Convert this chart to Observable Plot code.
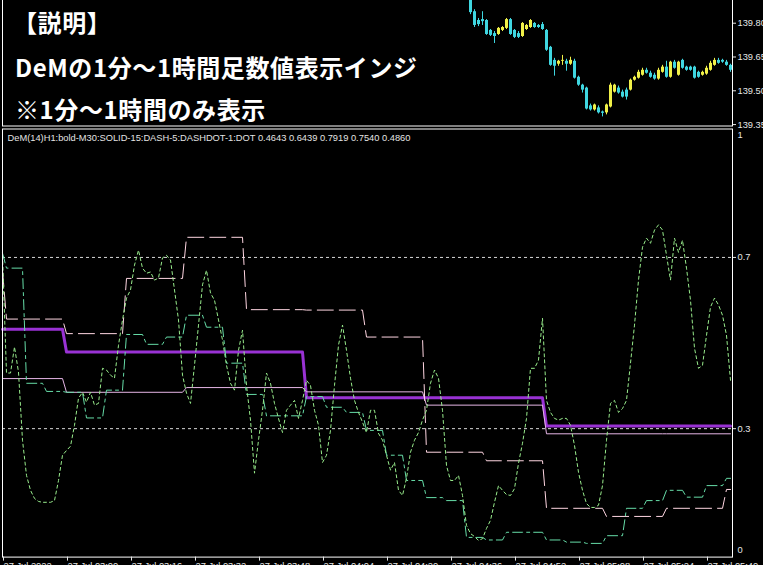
<!DOCTYPE html>
<html>
<head>
<meta charset="utf-8">
<script src="https://cdn.jsdelivr.net/npm/d3@7"></script>
<script src="https://cdn.jsdelivr.net/npm/@observablehq/plot@0.6"></script>
<style>
html, body { margin: 0; padding: 0; background: #000; }
#wrap { position: relative; width: 763px; height: 565px; overflow: hidden; background: #000; }
#top, #bottom { position: absolute; left: 0; }
#top { top: -3px; }
#bottom { top: 128px; }
#top svg, #bottom svg { overflow: visible; }
.note { position: absolute; color: #fff; font-family: "Noto Sans CJK JP", sans-serif; font-weight: 700; font-size: 24px; line-height: 1; white-space: nowrap; letter-spacing: 0.6px; }
</style>
</head>
<body>
<div id="wrap">
  <div id="top"></div>
  <div id="bottom"></div>
  <div class="note" style="left:13px; top:10px;">【説明】</div>
  <div class="note" style="left:15px; top:55px;">DeMの1分～1時間足数値表示インジ</div>
  <div class="note" style="left:15px; top:97px;">※1分～1時間のみ表示</div>
</div>
<script>
// ---------- data ----------
const firstBar = "02:44";
const headerText = "DeM(14)H1:bold-M30:SOLID-15:DASH-5:DASHDOT-1:DOT 0.4643 0.6439 0.7919 0.7540 0.4860";

// M1 (DOT) value for every 1-minute bar from 02:44
const m1Values = [
  0.705,0.430,0.430,0.491,0.432,0.273,0.191,0.156,0.137,0.130,
  0.128,0.128,0.128,0.132,0.179,0.238,0.249,0.259,0.308,0.371,
  0.385,0.362,0.385,0.355,0.359,0.441,0.437,0.425,0.418,0.495,
  0.554,0.605,0.624,0.682,0.717,0.675,0.663,0.666,0.647,0.652,
  0.699,0.705,0.694,0.624,0.554,0.425,0.383,0.359,0.448,0.542,
  0.636,0.670,0.617,0.600,0.554,0.507,0.448,0.406,0.390,0.483,
  0.530,0.401,0.320,0.196,0.273,0.343,0.430,0.406,0.359,0.324,
  0.291,0.343,0.355,0.366,0.324,0.366,0.413,0.401,0.343,0.308,
  0.221,0.238,0.296,0.401,0.495,0.542,0.483,0.418,0.366,0.338,
  0.315,0.291,0.343,0.343,0.289,0.273,0.238,0.203,0.221,0.156,
  0.144,0.184,0.245,0.273,0.291,0.320,0.343,0.406,0.437,0.418,
  0.343,0.214,0.179,0.179,0.191,0.144,0.074,0.055,0.048,0.039,
  0.043,0.067,0.086,0.128,0.167,0.156,0.146,0.144,0.160,0.219,
  0.266,0.324,0.441,0.441,0.460,0.558,0.366,0.338,0.324,0.320,
  0.324,0.324,0.308,0.261,0.198,0.156,0.125,0.116,0.116,0.121,
  0.167,0.273,0.359,0.366,0.338,0.347,0.366,0.453,0.542,0.647,
  0.724,0.745,0.733,0.764,0.776,0.764,0.705,0.647,0.745,0.712,
  0.740,0.675,0.600,0.488,0.441,0.448,0.518,0.584,0.605,0.589,
  0.565,0.518,0.413
];

// Higher timeframe values per period (period start times)
const h1Starts = ["02:00","03:00","04:00","05:00"];
const h1Values = [0.532,0.479,0.372,0.306];

const m30Starts = ["02:30","03:00","03:30","04:00","04:30","05:00","05:30"];
const m30Values = [0.417,0.385,0.396,0.386,0.355,0.288,0.288];

const m15Starts = ["02:30","02:45","03:00","03:15","03:30","03:45","04:00","04:15","04:30","04:45","05:00","05:15","05:30","05:45"];
const m15Values = [0.670,0.556,0.522,0.651,0.747,0.578,0.577,0.514,0.245,0.225,0.114,0.095,0.114,0.158];

const m5Starts = ["02:40","02:45","02:50","02:55","03:00","03:05","03:10","03:15","03:20","03:25",
                  "03:30","03:35","03:40","03:45","03:50","03:55","04:00","04:05","04:10","04:15",
                  "04:20","04:25","04:30","04:35","04:40","04:45","04:50","04:55","05:00","05:05",
                  "05:10","05:15","05:20","05:25","05:30","05:35","05:40","05:45"];
const m5Values = [0.710,0.675,0.406,0.387,0.385,0.325,0.390,0.520,0.497,0.514,
                  0.565,0.537,0.453,0.380,0.330,0.330,0.375,0.350,0.338,0.296,
                  0.238,0.179,0.139,0.132,0.046,0.040,0.058,0.058,0.040,0.035,
                  0.032,0.050,0.114,0.132,0.156,0.140,0.167,0.184];

const levels = [0.7, 0.3];
const yEdgeTop = [1];
const yEdgeBottom = [0];

const tickTimes = ["02:44","03:00","03:16","03:32","03:48","04:04","04:20","04:36","04:52","05:08","05:24","05:40"];
const tickLabels = ["27 Jul 2022","27 Jul 03:00","27 Jul 03:16","27 Jul 03:32","27 Jul 03:48","27 Jul 04:04",
                    "27 Jul 04:20","27 Jul 04:36","27 Jul 04:52","27 Jul 05:08","27 Jul 05:24","27 Jul 05:40"];

// Price candles (M1) starting at 04:41
const candleFirst = "04:41";
const candleOpen = [139.922,139.851,139.812,139.816,139.812,139.768,139.754,139.750,139.768,139.777,
  139.816,139.768,139.754,139.741,139.772,139.781,139.799,139.790,139.794,139.768,
  139.693,139.635,139.618,139.631,139.631,139.618,139.631,139.560,139.525,139.512,
  139.433,139.415,139.424,139.406,139.402,139.428,139.494,139.512,139.494,139.503,
  139.503,139.547,139.556,139.569,139.591,139.578,139.569,139.552,139.582,139.605,
  139.560,139.627,139.569,139.635,139.605,139.605,139.605,139.582,139.569,139.574,
  139.591,139.613,139.635,139.635,139.627,139.613];
const candleHigh = [139.935,139.860,139.821,139.851,139.816,139.772,139.763,139.781,139.785,139.821,
  139.821,139.772,139.763,139.803,139.794,139.816,139.803,139.794,139.803,139.772,
  139.697,139.644,139.635,139.657,139.640,139.649,139.640,139.565,139.529,139.516,
  139.441,139.441,139.433,139.410,139.441,139.534,139.529,139.521,139.503,139.512,
  139.552,139.565,139.591,139.600,139.600,139.587,139.578,139.600,139.613,139.631,
  139.631,139.635,139.631,139.640,139.609,139.609,139.609,139.587,139.587,139.609,
  139.631,139.644,139.644,139.640,139.635,139.618];
const candleLow = [139.838,139.781,139.785,139.790,139.746,139.741,139.710,139.746,139.763,139.772,
  139.746,139.732,139.732,139.737,139.768,139.777,139.777,139.777,139.768,139.675,
  139.609,139.565,139.609,139.613,139.587,139.613,139.552,139.520,139.490,139.415,
  139.410,139.410,139.397,139.384,139.393,139.424,139.490,139.485,139.468,139.459,
  139.499,139.543,139.552,139.565,139.574,139.556,139.547,139.547,139.578,139.556,
  139.556,139.596,139.565,139.596,139.587,139.587,139.552,139.556,139.565,139.569,
  139.587,139.609,139.618,139.622,139.609,139.582];
const candleClose = [139.847,139.790,139.794,139.807,139.750,139.746,139.741,139.777,139.781,139.816,
  139.750,139.737,139.737,139.799,139.790,139.812,139.781,139.781,139.772,139.680,
  139.613,139.609,139.631,139.635,139.618,139.635,139.556,139.525,139.503,139.419,
  139.415,139.437,139.402,139.400,139.437,139.525,139.525,139.490,139.472,139.472,
  139.547,139.560,139.582,139.591,139.578,139.560,139.552,139.591,139.605,139.560,
  139.627,139.600,139.627,139.600,139.591,139.591,139.556,139.560,139.582,139.600,
  139.622,139.635,139.622,139.627,139.613,139.591];
const priceTicks = [139.80, 139.65, 139.50, 139.35];

// ---------- build ----------
const MIN = 60000;
const T = s => { const [h, m] = s.split(":").map(Number); return new Date(Date.UTC(2022, 6, 27, h, m)); };
const t0 = T(firstBar);
const tLast = new Date(+t0 + (m1Values.length - 1) * MIN);
const xDomain = [t0, new Date(+tLast + MIN / 2)];

function steps(starts, values) {
  const pts = [];
  starts.forEach((s, i) => {
    let a = T(s); if (a < t0) a = t0;
    let b = i + 1 < starts.length ? new Date(+T(starts[i + 1]) - MIN) : tLast;
    if (b < a) b = a;
    pts.push({t: a, v: values[i]}, {t: b, v: values[i]});
  });
  return pts;
}
const h1Pts = steps(h1Starts, h1Values);
const m30Pts = steps(m30Starts, m30Values);
const m15Pts = steps(m15Starts, m15Values);
const m5Pts = steps(m5Starts, m5Values);
const m1Pts = m1Values.map((v, i) => ({t: new Date(+t0 + i * MIN), v}));

const c0 = T(candleFirst);
const candles = candleOpen.map((o, i) => ({
  t: new Date(+c0 + i * MIN), o, h: candleHigh[i], l: candleLow[i], c: candleClose[i]
}));
const bulls = candles.filter(d => d.c >= d.o);
const bears = candles.filter(d => d.c < d.o);
const bullColor = "#f0f048", bearColor = "#3fd6e0";

const labelMap = new Map(tickTimes.map((s, i) => [+T(s), tickLabels[i]]));
const font = {background: "black", color: "white", fontFamily: "'Liberation Sans', Arial, sans-serif", fontSize: "9.3px"};

const topPlot = Plot.plot({
  width: 763, height: 130,
  marginLeft: 2, marginRight: 31, marginTop: 0, marginBottom: 1.5,
  style: font,
  x: {type: "utc", domain: xDomain, axis: null, label: null},
  y: {domain: [139.3437, 139.9008], range: [128.5, 3], label: null},
  marks: [
    Plot.ruleX(bulls, {x: "t", y1: "l", y2: "h", stroke: bullColor, strokeWidth: 1}),
    Plot.ruleX(bears, {x: "t", y1: "l", y2: "h", stroke: bearColor, strokeWidth: 1}),
    Plot.ruleX(bulls, {x: "t", y1: "o", y2: "c", stroke: bullColor, strokeWidth: 3}),
    Plot.ruleX(bears, {x: "t", y1: "o", y2: "c", stroke: bearColor, strokeWidth: 3}),
    Plot.frame({stroke: "white"}),
    Plot.axisY({anchor: "right", ticks: priceTicks, tickFormat: d3.format(".2f"), tickSize: 3, tickPadding: 2, label: null, color: "#e6e6e6"})
  ]
});
document.getElementById("top").appendChild(topPlot);

const bottomPlot = Plot.plot({
  width: 763, height: 437,
  marginLeft: 2, marginRight: 31, marginTop: 0.5, marginBottom: 8.4,
  style: font,
  x: {type: "utc", domain: xDomain, label: null},
  y: {domain: [0, 1], label: null},
  marks: [
    Plot.ruleY(levels, {stroke: "#d8d8d8", strokeDasharray: "3,3"}),
    Plot.line(h1Pts, {x: "t", y: "v", stroke: "#9932d4", strokeWidth: 3, curve: "linear"}),
    Plot.line(m30Pts, {x: "t", y: "v", stroke: "#e6b6e6", strokeWidth: 1}),
    Plot.line(m15Pts, {x: "t", y: "v", stroke: "#ffd6e2", strokeWidth: 1, strokeDasharray: "16,6"}),
    Plot.line(m5Pts, {x: "t", y: "v", stroke: "#66dda8", strokeWidth: 1, strokeDasharray: "10,4,3,4"}),
    Plot.line(m1Pts, {x: "t", y: "v", stroke: "#98ec8c", strokeWidth: 1, strokeDasharray: "3,3"}),
    Plot.frame({stroke: "white"}),
    Plot.text([headerText], {frameAnchor: "top-left", dx: 5, dy: 9.2, textAnchor: "start", lineAnchor: "middle", fill: "#e4e4e4"}),
    Plot.axisX({ticks: tickTimes.map(T), tickFormat: d => labelMap.get(+d), tickSize: 4, tickPadding: 1, textAnchor: "start", dx: 1, label: null, color: "#e6e6e6"}),
    Plot.axisY({anchor: "right", ticks: levels, tickSize: 3, tickPadding: 2, label: null, color: "#e6e6e6"}),
    Plot.text(yEdgeTop, {y: d => d, text: d => String(d), frameAnchor: "right", dx: 5, dy: 6.5, textAnchor: "start", fill: "#e6e6e6"}),
    Plot.text(yEdgeBottom, {y: d => d, text: d => String(d), frameAnchor: "right", dx: 5, dy: -6.6, textAnchor: "start", fill: "#e6e6e6"})
  ]
});
document.getElementById("bottom").appendChild(bottomPlot);
</script>
</body>
</html>
